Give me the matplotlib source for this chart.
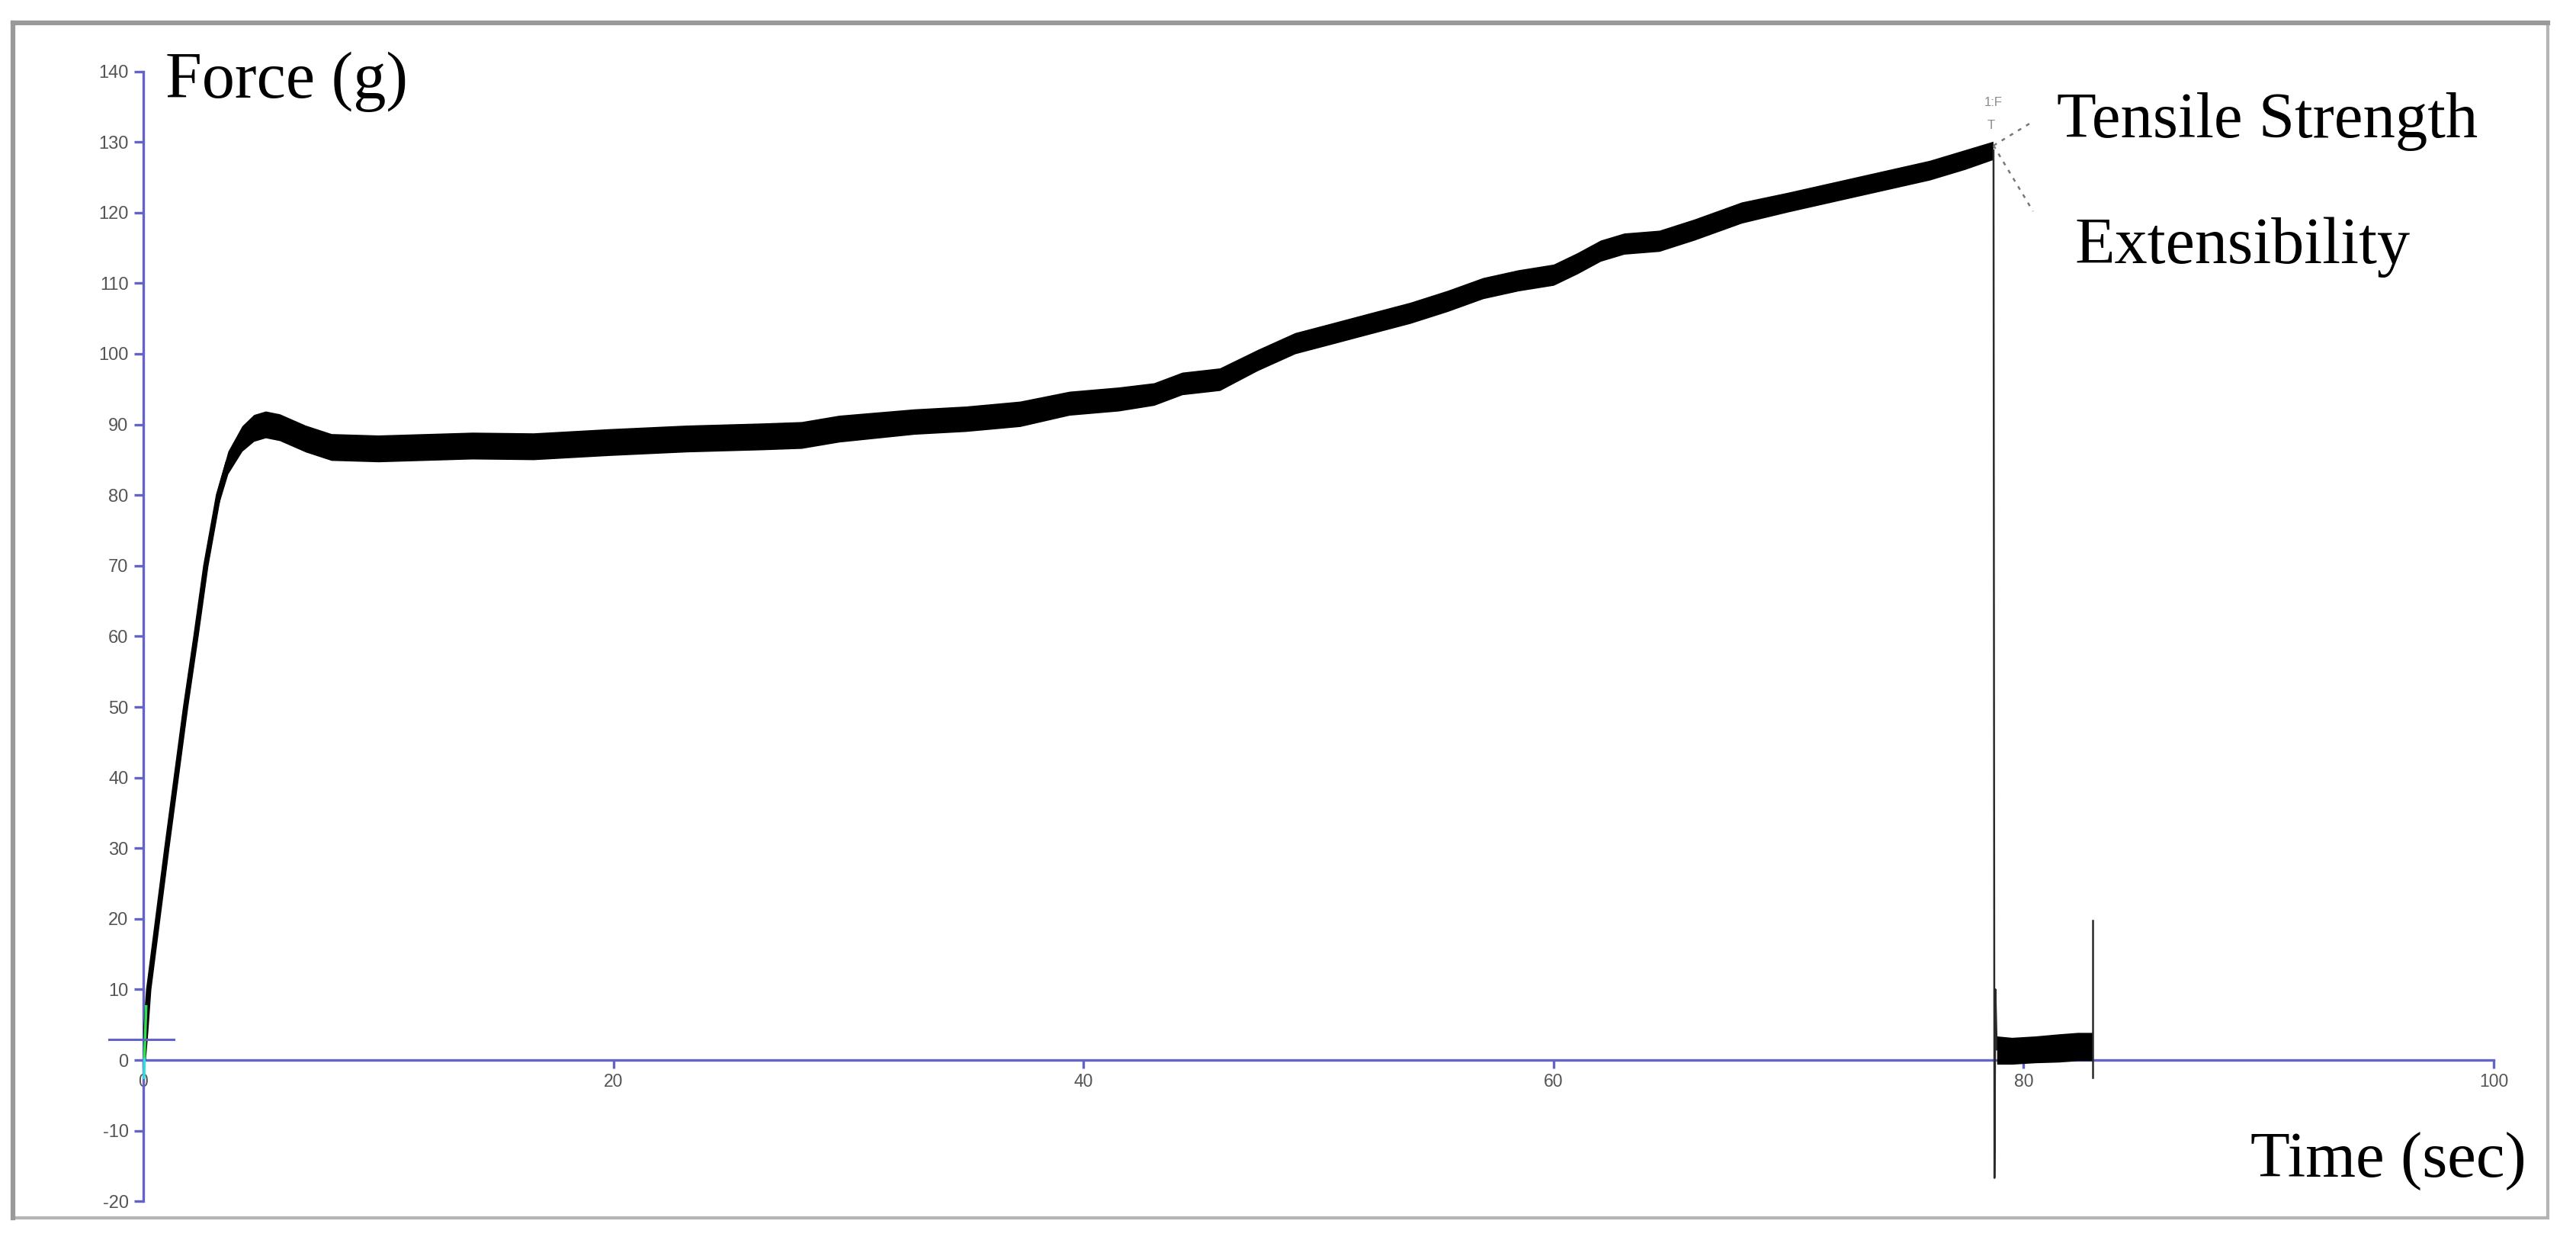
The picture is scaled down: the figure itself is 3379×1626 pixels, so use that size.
import matplotlib
matplotlib.use("Agg")
import matplotlib.pyplot as plt
from matplotlib.patches import Rectangle

# ---------------- data ----------------
time_s = [0, 0.1, 0.23, 1.0, 1.8, 2.24, 2.66, 3.2, 3.6, 4.2, 4.7, 5.2, 5.8, 6.9,
          8.0, 10, 12, 14, 16.6, 19.85, 23.1, 26.3, 28, 29.6, 32.8, 35, 37.3,
          39.4, 41.5, 43, 44.2, 45.8, 47.4, 49.0, 50.6, 52.3, 53.9, 55.5, 57,
          58.5, 60, 61, 62, 63, 64.5, 66, 68, 70, 72, 74, 76, 77.5, 78.7]
force_g = [0, 4, 10, 30, 50, 60, 70, 80, 84.6, 88, 89.5, 90, 89.6, 88,
           86.8, 86.6, 86.8, 87, 86.9, 87.5, 88, 88.3, 88.5, 89.4, 90.4, 90.8, 91.5,
           93, 93.6, 94.3, 95.8, 96.4, 99.1, 101.5, 102.9, 104.4, 105.8, 107.5, 109.3,
           110.4, 111.2, 112.8, 114.6, 115.6, 116, 117.6, 120, 121.5, 123, 124.5, 126, 127.5, 128.8]
noise_halfwidth = [0.3, 0.5, 0.7, 0.9, 1.0, 1.1, 1.2, 1.4, 1.6, 1.8, 1.9, 1.9, 1.9, 1.9,
                   1.9, 1.9, 1.9, 1.9, 1.9, 1.9, 1.9, 1.9, 1.9, 1.9, 1.8, 1.8, 1.8,
                   1.7, 1.7, 1.6, 1.6, 1.6, 1.5, 1.5, 1.5, 1.5, 1.5, 1.5, 1.5,
                   1.5, 1.5, 1.5, 1.5, 1.5, 1.5, 1.5, 1.5, 1.4, 1.4, 1.4, 1.4, 1.4, 1.3]

# break and post-break trace
break_time = [78.72, 78.76, 78.80, 78.86]
break_force = [128.8, -16.7, 10.0, 1.5]
tail_time = [78.86, 79.5, 80.5, 81.5, 82.3, 82.95]
tail_force = [1.4, 1.3, 1.5, 1.7, 1.9, 1.9]
tail_halfwidth = [2.0, 1.9, 1.9, 2.0, 2.0, 2.0]
spike_time = [82.95, 82.95]
spike_force = [-2.5, 19.8]

peak_time = 78.72
peak_force = 129.5

x_ticks = [0, 20, 40, 60, 80, 100]
y_ticks = list(range(-20, 141, 10))

AXIS_BLUE = "#6464c8"
TICK_GREY = "#555555"

# ---------------- figure ----------------
W, H = 3379, 1626
fig = plt.figure(figsize=(W / 100, H / 100), dpi=100)
fig.patch.set_facecolor("white")

# outer frame
fig.patches.append(Rectangle((17 / W, 1 - 1597 / H), (3342 - 17) / W, (1597 - 30) / H,
                             transform=fig.transFigure, fill=False,
                             edgecolor="#b4b4b4", linewidth=3.0, zorder=0))
fig.add_artist(plt.Line2D([17 / W, 3342 / W], [1 - 30 / H, 1 - 30 / H],
                          transform=fig.transFigure, color="#9a9a9a", lw=4.5))
fig.add_artist(plt.Line2D([17 / W, 17 / W], [1 - 30 / H, 1 - 1597 / H],
                          transform=fig.transFigure, color="#9a9a9a", lw=4.5))

x0, x100 = 188, 3271
y140, ym20 = 93.6, 1575.2
ax = fig.add_axes([x0 / W, 1 - ym20 / H, (x100 - x0) / W, (ym20 - y140) / H])
ax.set_xlim(0, 100)
ax.set_ylim(-20, 140)
ax.set_facecolor("none")

for s in ["top", "right"]:
    ax.spines[s].set_visible(False)
ax.spines["left"].set_color(AXIS_BLUE)
ax.spines["left"].set_linewidth(2.4)
ax.spines["left"].set_bounds(-20, 140)
ax.spines["bottom"].set_position(("data", 0))
ax.spines["bottom"].set_color(AXIS_BLUE)
ax.spines["bottom"].set_linewidth(2.4)
ax.spines["bottom"].set_bounds(0, 100)

ax.set_xticks(x_ticks)
ax.set_yticks(y_ticks)
ax.set_xticklabels([str(v) for v in x_ticks])
ax.set_yticklabels([str(v) for v in y_ticks])
ax.tick_params(axis="y", direction="out", length=9, width=2.4, color=AXIS_BLUE,
               labelsize=17, labelcolor=TICK_GREY, pad=5)
ax.tick_params(axis="x", direction="out", length=8, width=2.4, color=AXIS_BLUE,
               labelsize=16.5, labelcolor=TICK_GREY, pad=4)
for lab in ax.get_xticklabels() + ax.get_yticklabels():
    lab.set_fontfamily("Liberation Sans")

# main noisy force trace (band)
lo = [f - h for f, h in zip(force_g, noise_halfwidth)]
hi = [f + h for f, h in zip(force_g, noise_halfwidth)]
ax.fill_between(time_s, lo, hi, color="black", lw=0, zorder=3)
ax.plot(time_s, force_g, color="black", lw=5, zorder=3, solid_capstyle="butt")

# break
ax.plot(break_time, break_force, color="#2a2a2a", lw=1.8, zorder=3)
tlo = [f - h for f, h in zip(tail_force, tail_halfwidth)]
thi = [f + h for f, h in zip(tail_force, tail_halfwidth)]
ax.fill_between(tail_time, tlo, thi, color="black", lw=0, zorder=3)
ax.plot(spike_time, spike_force, color="#2a2a2a", lw=1.8, zorder=3)

# start markers
ax.plot([0.03, 0.05], [-2.5, 0.5], color="#30e0e0", lw=2.5, zorder=4, clip_on=False)
ax.plot([0.05, 0.12], [0.5, 7.6], color="#30e050", lw=2.5, zorder=4, clip_on=False)
ax.plot([-1.46, 1.3], [2.9, 2.9], color=AXIS_BLUE, lw=2.2, zorder=4, clip_on=False)

# peak annotation
ax.plot([peak_time, 80.4], [peak_force, 132.9], color="#777777", lw=1.8,
        ls=(0, (2, 3)), zorder=4, clip_on=False)
ax.plot([peak_time, 80.4], [peak_force, 120.2], color="#777777", lw=1.8,
        ls=(0, (2, 3)), zorder=4, clip_on=False)
ax.text(peak_time, 135.6, "1:F", color="#8a8a8a", fontsize=12, ha="center",
        va="center", family="Liberation Sans", clip_on=False)
ax.text(peak_time - 0.1, 132.3, "T", color="#8a8a8a", fontsize=12, ha="center",
        va="center", family="Liberation Sans", clip_on=False)

# labels (figure-pixel positions)
serif = "Liberation Serif"
fig.text(217 / W, 1 - 128 / H, "Force (g)", fontsize=62, family=serif,
         ha="left", va="baseline")
fig.text(2952 / W, 1 - 1543 / H, "Time (sec)", fontsize=61, family=serif,
         ha="left", va="baseline")
fig.text(2698 / W, 1 - 180 / H, "Tensile Strength", fontsize=61, family=serif,
         ha="left", va="baseline")
fig.text(2722 / W, 1 - 345 / H, "Extensibility", fontsize=62, family=serif,
         ha="left", va="baseline")

fig.savefig("out.png", dpi=100, facecolor="white")
